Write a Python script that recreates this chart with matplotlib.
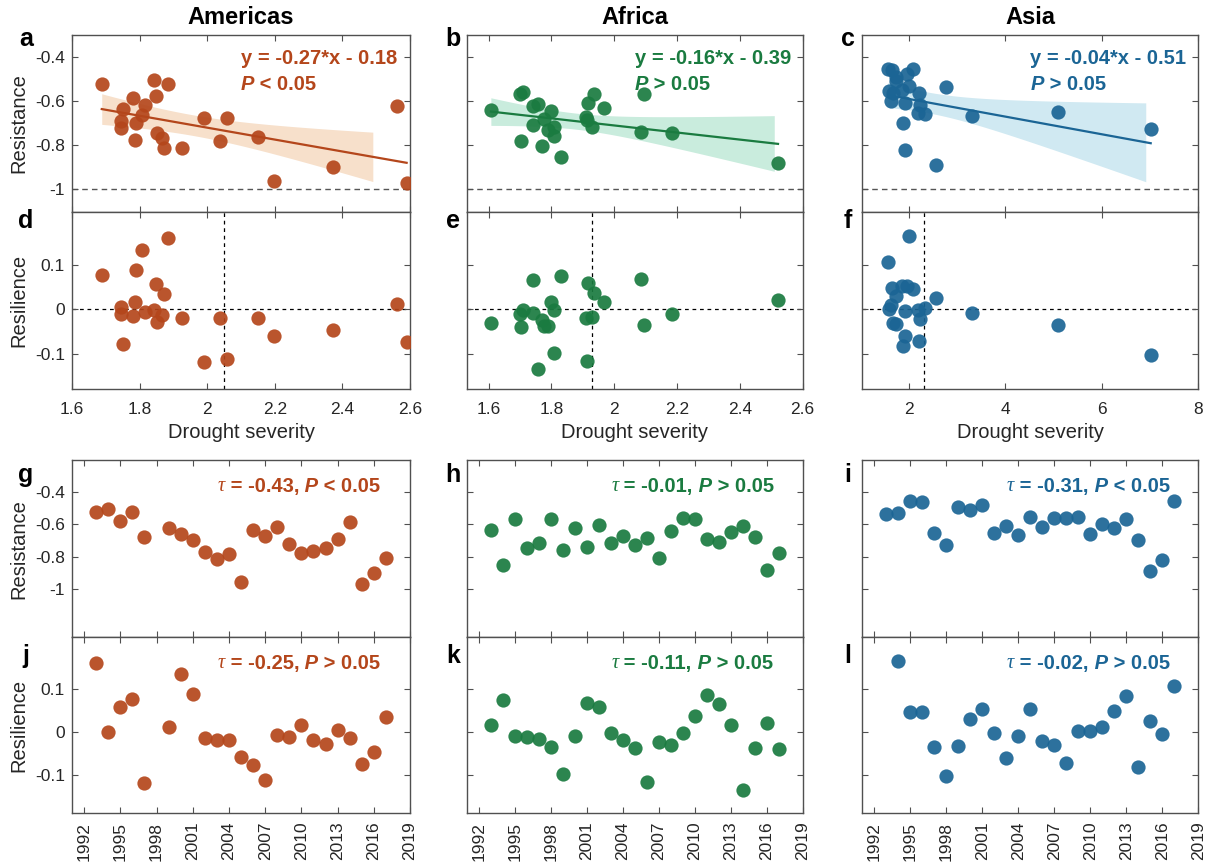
import numpy as np
import matplotlib
matplotlib.use("Agg")
import matplotlib.pyplot as plt
from matplotlib.ticker import FormatStrFormatter

plt.rcParams["font.family"] = ["Liberation Sans", "DejaVu Sans"]

nan = np.nan

# ---------------------------------------------------------------- data
regions = ["Americas", "Africa", "Asia"]
colors = ["#B4461B", "#1A7B40", "#1B6595"]
band_colors = ["#F7E0CB", "#C9ECDD", "#D0E9F2"]

# Americas (no event in 1998)
am_years = [1993, 1994, 1995, 1996, 1997, 1999, 2000, 2001, 2002, 2003, 2004, 2005,
            2006, 2007, 2008, 2009, 2010, 2011, 2012, 2013, 2014, 2015, 2016, 2017]
am_severity = [1.883, 1.842, 1.849, 1.688, 1.990, 2.562, 1.808, 1.789, 1.865, 1.926, 2.039, 2.198,
               1.752, 2.059, 1.815, 1.744, 1.786, 2.149, 1.850, 1.745, 1.780, 2.590, 2.373, 1.873]
am_resistance = [-0.524, -0.506, -0.576, -0.524, -0.678, -0.621, -0.662, -0.699, -0.768, -0.813, -0.782, -0.960,
                 -0.635, -0.674, -0.618, -0.723, -0.774, -0.762, -0.745, -0.690, -0.585, -0.970, -0.900, -0.810]
am_resilience = [0.160, -0.001, 0.057, 0.077, -0.119, 0.011, 0.134, 0.089, -0.014, -0.020, -0.020, -0.060,
                 -0.078, -0.112, -0.007, -0.012, 0.016, -0.019, -0.028, 0.005, -0.015, -0.075, -0.048, 0.034]

# Africa
af_years = list(range(1993, 2018))
af_severity = [1.967, 1.831, 1.701, 2.185, 1.930, 2.096, 1.808, 1.741, 2.085, 1.916, 1.807, 1.909, 1.789,
               1.913, 1.770, 1.607, 1.708, 1.935, nan, 1.740, 1.800, 1.758, 1.775, 2.522, 1.704]
af_resistance = [-0.633, -0.852, -0.569, -0.743, -0.718, -0.568, -0.759, -0.620, -0.740, -0.606, -0.715, -0.673,
                 -0.730, -0.687, -0.805, -0.639, -0.558, -0.568, -0.688, -0.709, -0.644, -0.612, -0.680, -0.880,
                 -0.779]
af_resilience = [0.016, 0.074, -0.010, -0.012, -0.017, -0.036, -0.098, -0.009, 0.068, 0.058, -0.003, -0.020,
                 -0.038, -0.117, -0.024, -0.031, -0.002, 0.036, 0.086, 0.065, 0.015, -0.135, -0.038, 0.021,
                 -0.040]

# Asia
as_years = list(range(1993, 2018))
as_severity = [2.773, 1.990, 2.073, 1.650, 5.086, 7.013, 1.719, 1.739, 1.967, 2.183, 1.914, 3.300, 1.852,
               2.221, 1.673, 2.211, 1.594, 2.328, 1.618, nan, nan, 1.880, 2.567, 1.925, 1.560]
as_resistance = [-0.535, -0.530, -0.454, -0.460, -0.651, -0.728, -0.490, -0.509, -0.478, -0.655, -0.607, -0.665,
                 -0.551, -0.618, -0.561, -0.561, -0.555, -0.658, -0.597, -0.623, -0.563, -0.699, -0.890, -0.821,
                 -0.452]
as_resilience = [nan, 0.164, 0.046, 0.047, -0.035, -0.104, -0.034, 0.030, 0.052, -0.002, -0.061, -0.009,
                 0.053, -0.022, -0.031, -0.072, 0.001, 0.002, 0.010, 0.049, 0.083, -0.083, 0.026, -0.005, 0.107]

# regression of resistance on drought severity
fit_slope = [-0.27, -0.16, -0.04]
fit_intercept = [-0.18, -0.39, -0.51]
fit_p = ["<", ">", ">"]
band_end = [2.49, 2.51, 6.91]
severity_threshold = [2.05, 1.93, 2.30]

# Mann-Kendall trend statistics
tau_resistance = [-0.43, -0.01, -0.31]
p_resistance = ["<", ">", "<"]
tau_resilience = [-0.25, -0.11, -0.02]
p_resilience = [">", ">", ">"]

year_ticks = list(range(1992, 2020, 3))
sev_ticks = [[1.6, 1.8, 2.0, 2.2, 2.4, 2.6], [1.6, 1.8, 2.0, 2.2, 2.4, 2.6], [2, 4, 6, 8]]
sev_lims = [(1.6, 2.6), (1.53, 2.6), (1.03, 8.0)]
res_ticks = [-1, -0.8, -0.6, -0.4]
resil_ticks = [-0.1, 0, 0.1]

years = [am_years, af_years, as_years]
severity = [am_severity, af_severity, as_severity]
resistance = [am_resistance, af_resistance, as_resistance]
resilience = [am_resilience, af_resilience, as_resilience]

T_CRIT = {21: 2.080, 22: 2.074, 23: 2.069}

# ---------------------------------------------------------------- layout
W, H = 1216, 867
fig = plt.figure(figsize=(W / 100, H / 100), dpi=100)
col_left = [72, 466.7, 862.3]
col_right = [410, 802.5, 1198.3]
row_edges = [(35, 211.5), (211.5, 389), (460, 637.3), (637.3, 813.3)]

SPINE = "#505050"
TXT = "#262626"
MS = 105


def new_axes(c, r):
    t, b = row_edges[r]
    ax = fig.add_axes([col_left[c] / W, 1 - b / H, (col_right[c] - col_left[c]) / W, (b - t) / H])
    ax.tick_params(direction="in", top=True, right=True, length=4, width=0.8, color=SPINE,
                   labelsize=12.5, labelcolor=TXT)
    ax.tick_params(axis="y", pad=5)
    for s in ax.spines.values():
        s.set_color(SPINE)
        s.set_linewidth(1.0)
    return ax


def rich_text(ax, x, y, pieces, color, size=14.5):
    t = None
    for s, kw in pieces:
        if t is None:
            t = ax.text(x, y, s, transform=ax.transAxes, ha="left", va="center",
                        color=color, fontsize=size, **kw)
        else:
            t = ax.annotate(s, xy=(1, 0), xycoords=t, ha="left", va="bottom",
                            color=color, fontsize=size, **kw)


BOLD = dict(fontweight="bold")
BOLDIT = dict(fontweight="bold", fontstyle="italic")
TAU = dict(family=["Liberation Serif", "DejaVu Serif"], fontstyle="italic")

letters = "abcdefghijkl"
letter_x = [26, 453, 848]
letter_base = [46, 228, 482, 663]

for c in range(3):
    yr = np.asarray(years[c], float)
    sev = np.asarray(severity[c], float)
    rs = np.asarray(resistance[c], float)
    rl = np.asarray(resilience[c], float)
    col = colors[c]

    # --- resistance vs severity with fitted line and 95% confidence band
    ax = new_axes(c, 0)
    ok = ~np.isnan(sev)
    xs, ys = sev[ok], rs[ok]
    n = len(xs)
    k, b0 = fit_slope[c], fit_intercept[c]
    resid = ys - (k * xs + b0)
    s_err = np.sqrt(np.sum(resid ** 2) / (n - 2))
    sxx = np.sum((xs - xs.mean()) ** 2)
    xg = np.linspace(xs.min(), band_end[c], 200)
    half = T_CRIT[n - 2] * s_err * np.sqrt(1 / n + (xg - xs.mean()) ** 2 / sxx)
    ax.fill_between(xg, k * xg + b0 - half, k * xg + b0 + half, color=band_colors[c], lw=0, zorder=1)
    xl = np.array([xs.min(), xs.max()])
    ax.plot(xl, k * xl + b0, color=col, lw=1.6, zorder=2)
    ax.scatter(xs, ys, s=MS, color=col, alpha=0.92, linewidths=0, zorder=3)
    ax.axhline(-1, color="#555555", lw=1.0, ls=(0, (4, 3)), zorder=1.5)
    ax.set_xlim(*sev_lims[c])
    ax.set_ylim(-1.1, -0.3)
    ax.set_xticks(sev_ticks[c])
    ax.set_yticks(res_ticks)
    ax.yaxis.set_major_formatter(FormatStrFormatter("%g"))
    ax.tick_params(labelbottom=False)
    if c == 0:
        ax.set_ylabel("Resistance", fontsize=14.5, color=TXT)
        ax.yaxis.set_label_coords(-0.13, 0.5)
    else:
        ax.tick_params(labelleft=False)
    sign = "-" if b0 < 0 else "+"
    rich_text(ax, 0.5, 0.868, [(f"y = {k:.2f}*x {sign} {abs(b0):.2f}", BOLD)], col)
    rich_text(ax, 0.5, 0.721, [("P", BOLDIT), (f" {fit_p[c]} 0.05", BOLD)], col)

    # --- resilience vs severity
    ax = new_axes(c, 1)
    ok2 = ~np.isnan(sev) & ~np.isnan(rl)
    ax.scatter(sev[ok2], rl[ok2], s=MS, color=col, alpha=0.92, linewidths=0, zorder=3)
    ax.axhline(0, color="black", lw=0.9, ls=(0, (3, 3)), zorder=1)
    ax.axvline(severity_threshold[c], color="black", lw=0.9, ls=(0, (3, 3)), zorder=1)
    ax.set_xlim(*sev_lims[c])
    ax.set_ylim(-0.18, 0.22)
    ax.set_xticks(sev_ticks[c])
    ax.set_yticks(resil_ticks)
    ax.tick_params(axis="x", pad=9)
    ax.xaxis.set_major_formatter(FormatStrFormatter("%g"))
    ax.yaxis.set_major_formatter(FormatStrFormatter("%g"))
    ax.set_xlabel("Drought severity", fontsize=14.5, color=TXT, labelpad=5)
    if c == 0:
        ax.set_ylabel("Resilience", fontsize=14.5, color=TXT)
        ax.yaxis.set_label_coords(-0.13, 0.5)
    else:
        ax.tick_params(labelleft=False)

    # --- resistance through time
    ax = new_axes(c, 2)
    ax.scatter(yr, rs, s=MS, color=col, alpha=0.92, linewidths=0, zorder=3)
    ax.set_xlim(1991, 2019)
    ax.set_ylim(-1.3, -0.2)
    ax.set_xticks(year_ticks)
    ax.set_yticks(res_ticks)
    ax.yaxis.set_major_formatter(FormatStrFormatter("%g"))
    ax.tick_params(labelbottom=False)
    if c == 0:
        ax.set_ylabel("Resistance", fontsize=14.5, color=TXT)
        ax.yaxis.set_label_coords(-0.13, 0.5)
    else:
        ax.tick_params(labelleft=False)
    rich_text(ax, 0.43, 0.85, [("\u03c4", TAU), (f" = {tau_resistance[c]:.2f},", BOLD),
                               (" P", BOLDIT), (f" {p_resistance[c]} 0.05", BOLD)], col)

    # --- resilience through time
    ax = new_axes(c, 3)
    ok3 = ~np.isnan(rl)
    ax.scatter(yr[ok3], rl[ok3], s=MS, color=col, alpha=0.92, linewidths=0, zorder=3)
    ax.set_xlim(1991, 2019)
    ax.set_ylim(-0.19, 0.22)
    ax.set_xticks(year_ticks)
    ax.set_xticklabels([str(y) for y in year_ticks], rotation=90)
    ax.tick_params(axis="x", pad=6)
    ax.set_yticks(resil_ticks)
    ax.yaxis.set_major_formatter(FormatStrFormatter("%g"))
    if c == 0:
        ax.set_ylabel("Resilience", fontsize=14.5, color=TXT)
        ax.yaxis.set_label_coords(-0.13, 0.5)
    else:
        ax.tick_params(labelleft=False)
    rich_text(ax, 0.43, 0.85, [("\u03c4", TAU), (f" = {tau_resilience[c]:.2f},", BOLD),
                               (" P", BOLDIT), (f" {p_resilience[c]} 0.05", BOLD)], col)

    # column title
    cx = (col_left[c] + col_right[c]) / 2
    fig.text(cx / W, 1 - 18 / H, regions[c], ha="center", va="center", fontsize=17, fontweight="bold")

    for r in range(4):
        fig.text(letter_x[c] / W, 1 - letter_base[r] / H, letters[r * 3 + c], ha="center",
                 va="baseline", fontsize=18, fontweight="bold")

fig.savefig("out.png", dpi=100)
